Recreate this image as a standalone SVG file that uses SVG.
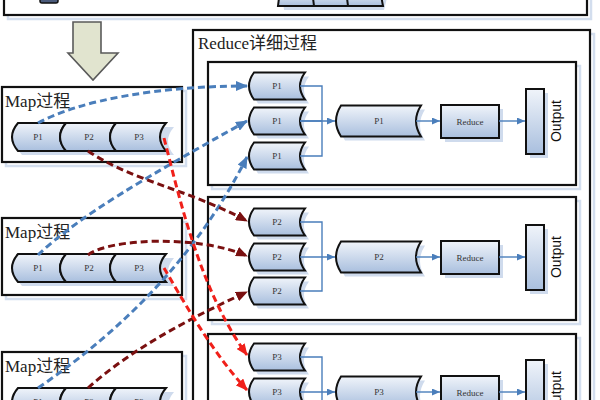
<svg xmlns="http://www.w3.org/2000/svg" xmlns:xlink="http://www.w3.org/1999/xlink" width="600" height="400" viewBox="0 0 600 400">
<defs>
<linearGradient id="qg" x1="0" y1="0" x2="0" y2="1">
<stop offset="0" stop-color="#f0f4fa"/>
<stop offset="1" stop-color="#a9bfde"/>
</linearGradient>
<path id="sq" d="M5,-13.5 H56 Q46,0 56,13.5 H5 Q-5,0 5,-13.5 Z"/>
<path id="mq" d="M5,-15.5 H85 Q75,0 85,15.5 H5 Q-5,0 5,-15.5 Z"/>
<marker id="ab" markerUnits="userSpaceOnUse" viewBox="0 0 12 10" markerWidth="12" markerHeight="10" refX="11" refY="5" orient="auto"><path d="M0,0 L12,5 L0,10 Z" fill="#4a7ebb"/></marker>
<marker id="ad" markerUnits="userSpaceOnUse" viewBox="0 0 12 10" markerWidth="12" markerHeight="10" refX="11" refY="5" orient="auto"><path d="M0,0 L12,5 L0,10 Z" fill="#7a1010"/></marker>
<marker id="ar" markerUnits="userSpaceOnUse" viewBox="0 0 12 10" markerWidth="12" markerHeight="10" refX="11" refY="5" orient="auto"><path d="M0,0 L12,5 L0,10 Z" fill="#f0201a"/></marker>
<marker id="as" markerUnits="userSpaceOnUse" viewBox="0 0 8 7" markerWidth="8" markerHeight="7" refX="8" refY="3.5" orient="auto"><path d="M0,0 L8,3.5 L0,7 Z" fill="#4a7ebb"/></marker>
</defs>
<style>
.box{fill:#fff;stroke:#111;stroke-width:2.2}
.shd{fill:none;stroke:#d3deee;stroke-width:2.5}
.q{fill:url(#qg);stroke:#111;stroke-width:2}
.qs{fill:#cfdbed}
.lbl{font-family:"Liberation Serif",serif;font-size:9px;fill:#333;text-anchor:middle;dominant-baseline:central}
.title{font-family:"Liberation Serif","Noto Sans CJK SC",serif;font-size:17px;fill:#222}
.out{font-family:"Liberation Sans",sans-serif;font-size:14px;fill:#111;text-anchor:middle;dominant-baseline:central}
.thin{fill:none;stroke:#4a7ebb;stroke-width:1.4}
.dash{fill:none;stroke-width:3;stroke-dasharray:7 4}
.b{stroke:#4a7ebb}
.d{stroke:#7a1010}
.r{stroke:#f0201a}
</style>
<rect width="600" height="400" fill="#fff"/>

<g id="top-box">
<rect class="shd" x="8" y="-6" width="583" height="25"/>
<rect class="box" x="4" y="-10" width="583" height="25"/>
<rect x="40" y="-8" width="18" height="11" rx="2" fill="#4a5a7a" stroke="#111" stroke-width="1.5"/>
<path class="qs" d="M282,-6 H388 L384,10 H284 Z"/>
<path class="q" d="M280,-10 H312 L314,6 H278 Z M312,-10 H346 L348,6 H314 Z M346,-10 H380 L383,6 H348 Z"/>
</g>

<g id="down-arrow">
<polygon points="73,22 101,22 101,53 118,53 93,80 68,53 73,53" fill="#e1e4cf" stroke="#5a5a5a" stroke-width="1.6"/>
</g>

<g id="reduce-outer">
<rect class="shd" x="197" y="34" width="397" height="380"/>
<rect class="box" x="193" y="30" width="397" height="380"/>
<text class="title" x="198" y="49">Reduce详细过程</text>
</g>

<g id="reduce-1">
<rect class="shd" x="212" y="66" width="368" height="123"/>
<rect class="box" x="208" y="62" width="368" height="123"/>
<use href="#sq" class="qs" x="253" y="90"/><use href="#sq" class="q" x="249" y="86"/><text class="lbl" x="277" y="86">P1</text>
<use href="#sq" class="qs" x="253" y="125"/><use href="#sq" class="q" x="249" y="121"/><text class="lbl" x="277" y="121">P1</text>
<use href="#sq" class="qs" x="253" y="160"/><use href="#sq" class="q" x="249" y="156"/><text class="lbl" x="277" y="156">P1</text>
<use href="#mq" class="qs" x="340" y="125"/><use href="#mq" class="q" x="336" y="121"/><text class="lbl" x="379" y="121">P1</text>
<rect class="qs" x="445" y="109" width="58" height="33"/><rect class="q" x="441" y="105" width="58" height="33"/><text class="lbl" x="470" y="121.5">Reduce</text>
<rect class="qs" x="530" y="93" width="18" height="65"/><rect class="q" x="526" y="89" width="18" height="65"/>
<text class="out" transform="translate(556,121) rotate(-90)">Output</text>
</g>

<g id="reduce-2">
<rect class="shd" x="212" y="201" width="368" height="123"/>
<rect class="box" x="208" y="197" width="368" height="123"/>
<use href="#sq" class="qs" x="253" y="226"/><use href="#sq" class="q" x="249" y="222"/><text class="lbl" x="277" y="222">P2</text>
<use href="#sq" class="qs" x="253" y="261"/><use href="#sq" class="q" x="249" y="257"/><text class="lbl" x="277" y="257">P2</text>
<use href="#sq" class="qs" x="253" y="295"/><use href="#sq" class="q" x="249" y="291"/><text class="lbl" x="277" y="291">P2</text>
<use href="#mq" class="qs" x="340" y="261"/><use href="#mq" class="q" x="336" y="257"/><text class="lbl" x="379" y="257">P2</text>
<rect class="qs" x="445" y="245" width="58" height="33"/><rect class="q" x="441" y="241" width="58" height="33"/><text class="lbl" x="470" y="257.5">Reduce</text>
<rect class="qs" x="530" y="229" width="18" height="65"/><rect class="q" x="526" y="225" width="18" height="65"/>
<text class="out" transform="translate(556,257) rotate(-90)">Output</text>
</g>

<g id="reduce-3">
<rect class="shd" x="212" y="338" width="368" height="123"/>
<rect class="box" x="208" y="334" width="368" height="123"/>
<use href="#sq" class="qs" x="253" y="361"/><use href="#sq" class="q" x="249" y="357"/><text class="lbl" x="277" y="357">P3</text>
<use href="#sq" class="qs" x="253" y="396"/><use href="#sq" class="q" x="249" y="392"/><text class="lbl" x="277" y="392">P3</text>
<use href="#mq" class="qs" x="340" y="396"/><use href="#mq" class="q" x="336" y="392"/><text class="lbl" x="379" y="392">P3</text>
<rect class="qs" x="445" y="380" width="58" height="33"/><rect class="q" x="441" y="376" width="58" height="33"/><text class="lbl" x="470" y="392.5">Reduce</text>
<rect class="qs" x="530" y="364" width="18" height="65"/><rect class="q" x="526" y="360" width="18" height="65"/>
<text class="out" transform="translate(556,392) rotate(-90)">Output</text>
</g>

<g id="map-1">
<rect class="shd" x="6" y="91" width="180" height="75"/>
<rect class="box" x="2" y="87" width="180" height="75"/>
<text class="title" x="5" y="107">Map过程</text>
<path class="qs" d="M22,127 H174 Q162,141 174,155 H22 Q10,141 22,127 Z"/>
<path class="q" d="M18,123 H66 Q54,137 66,151 H18 Q6,137 18,123 Z"/>
<path class="q" d="M66,123 H116 Q104,137 116,151 H66 Q54,137 66,123 Z"/>
<path class="q" d="M116,123 H166 Q154,137 166,151 H116 Q104,137 116,123 Z"/>
<text class="lbl" x="38" y="137">P1</text><text class="lbl" x="89" y="137">P2</text><text class="lbl" x="139" y="137">P3</text>
</g>

<g id="map-2">
<rect class="shd" x="6" y="222" width="180" height="77"/>
<rect class="box" x="2" y="218" width="180" height="77"/>
<text class="title" x="5" y="238">Map过程</text>
<path class="qs" d="M22,258 H174 Q162,272 174,286 H22 Q10,272 22,258 Z"/>
<path class="q" d="M18,254 H66 Q54,268 66,282 H18 Q6,268 18,254 Z"/>
<path class="q" d="M66,254 H116 Q104,268 116,282 H66 Q54,268 66,254 Z"/>
<path class="q" d="M116,254 H166 Q154,268 166,282 H116 Q104,268 116,254 Z"/>
<text class="lbl" x="38" y="268">P1</text><text class="lbl" x="89" y="268">P2</text><text class="lbl" x="139" y="268">P3</text>
</g>

<g id="map-3">
<rect class="shd" x="6" y="356" width="180" height="77"/>
<rect class="box" x="2" y="352" width="180" height="77"/>
<text class="title" x="5" y="372">Map过程</text>
<path class="qs" d="M22,392 H174 Q162,406 174,420 H22 Q10,406 22,392 Z"/>
<path class="q" d="M18,388 H66 Q54,402 66,416 H18 Q6,402 18,388 Z"/>
<path class="q" d="M66,388 H116 Q104,402 116,416 H66 Q54,402 66,388 Z"/>
<path class="q" d="M116,388 H166 Q154,402 166,416 H116 Q104,402 116,388 Z"/>
<text class="lbl" x="38" y="402">P1</text><text class="lbl" x="89" y="402">P2</text><text class="lbl" x="139" y="402">P3</text>
</g>

<g id="connectors">
<path class="thin" d="M300,86 H322 V156 H300 M322,121 H300"/>
<path class="thin" d="M300,121 H335" marker-end="url(#as)"/>
<path class="thin" d="M416,121 H440" marker-end="url(#as)"/>
<path class="thin" d="M499,121 H525" marker-end="url(#as)"/>
<path class="thin" d="M300,222 H322 V291 H300"/>
<path class="thin" d="M300,257 H335" marker-end="url(#as)"/>
<path class="thin" d="M416,257 H440" marker-end="url(#as)"/>
<path class="thin" d="M499,257 H525" marker-end="url(#as)"/>
<path class="thin" d="M300,357 H322 V400"/>
<path class="thin" d="M300,392 H335" marker-end="url(#as)"/>
<path class="thin" d="M416,392 H440" marker-end="url(#as)"/>
<path class="thin" d="M499,392 H525" marker-end="url(#as)"/>

<path class="dash b" d="M38,123 C80,100 160,86 247,86" marker-end="url(#ab)"/>
<path class="dash b" d="M38,255 C80,215 150,175 247,121" marker-end="url(#ab)"/>
<path class="dash b" d="M38,388 C130,325 200,250 247,157" marker-end="url(#ab)"/>
<path class="dash d" d="M88,151 C130,180 190,190 247,221" marker-end="url(#ad)"/>
<path class="dash d" d="M88,255 C110,238 200,235 247,256" marker-end="url(#ad)"/>
<path class="dash d" d="M88,388 C130,350 190,318 247,292" marker-end="url(#ad)"/>
<path class="dash r" d="M164,138 C180,200 200,290 247,355" marker-end="url(#ar)"/>
<path class="dash r" d="M164,268 C180,295 210,350 247,390" marker-end="url(#ar)"/>
</g>
</svg>
